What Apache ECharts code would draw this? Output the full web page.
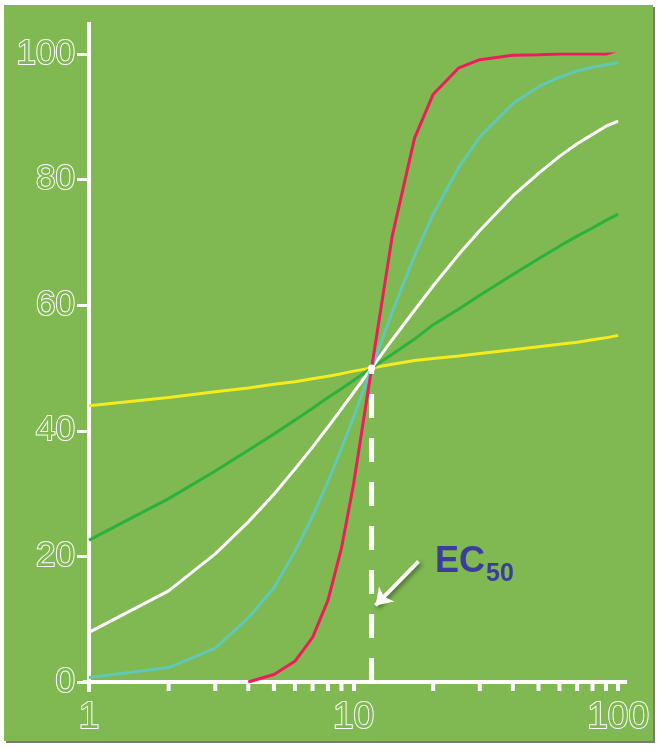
<!DOCTYPE html>
<html>
<head>
<meta charset="utf-8">
<script src="https://cdn.jsdelivr.net/npm/echarts@6/dist/echarts.min.js"></script>
<style>
  html, body { margin: 0; padding: 0; background: #fff; }
  #chart {
    position: absolute; left: 4px; top: 5px;
    width: 649px; height: 736px;
    background: #80b852;
    box-shadow: 2px 2px 0 #7a7a7a;
  }
</style>
</head>
<body>
<div id="chart"></div>
<script>
// concentration (log scale) and % response
var concentrations = [1, 2, 3, 4, 5, 6, 7, 8, 9, 10, 11.7, 14, 17, 20, 25, 30, 40, 50, 60, 70, 80, 90, 100];
var curveYellow = [44, 45.3, 46.2, 46.8, 47.4, 47.8, 48.3, 48.7, 49.1, 49.5, 50, 50.6, 51.2, 51.5, 51.9, 52.3, 52.9, 53.4, 53.8, 54.1, 54.5, 54.8, 55.2];
var curveGreen = [22.6, 29.2, 33.6, 36.9, 39.5, 41.7, 43.6, 45.3, 46.7, 48, 50, 52.2, 54.6, 56.9, 59.4, 61.6, 64.9, 67.4, 69.4, 71, 72.3, 73.5, 74.5];
var curveWhite = [7.9, 14.5, 20.4, 25.5, 29.9, 33.9, 37.4, 40.6, 43.5, 46.1, 50, 54.5, 59.2, 63.1, 68.1, 71.9, 77.4, 81, 83.7, 85.7, 87.2, 88.5, 89.3];
var curveCyan = [0.7, 2.3, 5.4, 10.2, 15, 20.8, 26.4, 31.9, 37.2, 42.2, 50, 58.9, 67.9, 74.5, 82, 86.8, 92.1, 94.8, 96.3, 97.3, 97.9, 98.3, 98.6];
var curveRed = [null, null, null, 0, 1.2, 3.3, 7.1, 13, 21.3, 31.5, 50, 71, 86.6, 93.6, 97.8, 99.1, 99.8, 99.9, 100, 100, 100, 100, 100.6];

var ec50 = 11.7;
var minorTicks = [2, 3, 4, 5, 6, 7, 8, 9, 20, 30, 40, 50, 60, 70, 80, 90];
var arrowFrom = [17.6, 19.2];
var arrowTo = [12.1, 12.2];

function pairs(ys) {
  var out = [];
  for (var i = 0; i < concentrations.length; i++) {
    if (ys[i] != null) out.push([concentrations[i], ys[i]]);
  }
  return out;
}

function curve(ys, color) {
  return {
    type: 'line',
    data: pairs(ys),
    showSymbol: false,
    smooth: false,
    lineStyle: { color: color, width: 3 },
    silent: true
  };
}

// hollow white digits like the original
var tickFont = {
  fontFamily: '"Liberation Sans", sans-serif',
  color: '#80b852',
  textBorderColor: '#fff',
  textBorderWidth: 2
};

var chart = echarts.init(document.getElementById('chart'));
chart.setOption({
  animation: false,
  grid: { left: 85, right: 34, top: 49, bottom: 59 },
  xAxis: {
    type: 'log',
    logBase: 10,
    min: 1,
    max: 100,
    axisLine: { lineStyle: { color: '#fff', width: 4 } },
    axisTick: { show: true, inside: false, length: 9, lineStyle: { color: '#fff', width: 4 } },
    axisLabel: Object.assign({ margin: 17, fontSize: 37 }, tickFont),
    splitLine: { show: false }
  },
  yAxis: {
    type: 'value',
    min: 0,
    max: 100,
    interval: 20,
    axisLine: { show: true, lineStyle: { color: '#fff', width: 4 } },
    axisTick: { show: true, inside: false, length: 12, lineStyle: { color: '#fff', width: 3 } },
    axisLabel: Object.assign({ margin: 14, fontSize: 35 }, tickFont),
    splitLine: { show: false }
  },
  series: [
    curve(curveYellow, '#f4ec1c'),
    curve(curveGreen, '#2bb23c'),
    curve(curveWhite, '#ffffff'),
    curve(curveCyan, '#5fc9b6'),
    curve(curveRed, '#ee1c5c'),
    {
      // EC50 drop line, drawn from the axis up so the dashes line up
      type: 'line',
      data: [[ec50, 0], [ec50, 50]],
      symbol: 'circle',
      symbolSize: function (v, p) { return p.dataIndex === 1 ? 7 : 0; },
      itemStyle: { color: '#fff' },
      lineStyle: { color: '#fff', width: 5, type: [24, 20] },
      silent: true,
      z: 5,
      markLine: {
        silent: true,
        symbol: ['none', 'arrow'],
        symbolSize: [16, 16],
        label: { show: false },
        lineStyle: {
          color: '#fff', width: 4, type: 'solid',
          shadowColor: 'rgba(0,0,0,0.45)', shadowBlur: 4, shadowOffsetX: 2, shadowOffsetY: 2
        },
        data: [[{ coord: arrowFrom }, { coord: arrowTo }]]
      }
    },
    {
      // minor ticks of the log axis
      type: 'custom',
      silent: true,
      clip: false,
      data: minorTicks.map(function (v) { return [v, 0]; }),
      renderItem: function (params, api) {
        var p = api.coord([api.value(0), 0]);
        return {
          type: 'line',
          shape: { x1: p[0], y1: p[1], x2: p[0], y2: p[1] + 9 },
          style: { stroke: '#fff', lineWidth: 4 }
        };
      }
    }
  ]
});

// axis lines run a little past the last ticks
var origin = chart.convertToPixel({ gridIndex: 0 }, [1, 0]);
var corner = chart.convertToPixel({ gridIndex: 0 }, [100, 100]);
chart.setOption({
  graphic: [
    { type: 'line', shape: { x1: origin[0], y1: corner[1], x2: origin[0], y2: corner[1] - 32 }, style: { stroke: '#fff', lineWidth: 4 } },
    { type: 'line', shape: { x1: origin[0], y1: origin[1], x2: origin[0], y2: origin[1] + 10 }, style: { stroke: '#fff', lineWidth: 4 } },
    { type: 'line', shape: { x1: corner[0], y1: origin[1], x2: corner[0] + 9, y2: origin[1] }, style: { stroke: '#fff', lineWidth: 4 } },
    { type: 'line', shape: { x1: origin[0] - 6, y1: origin[1], x2: origin[0], y2: origin[1] }, style: { stroke: '#fff', lineWidth: 4 } },
    {
      type: 'text', left: 431, top: 539,
      style: { text: 'EC', font: 'bold 36px "Liberation Sans", sans-serif', fill: '#3a3d9e' }
    },
    {
      type: 'text', left: 482, top: 557,
      style: { text: '50', font: 'bold 25px "Liberation Sans", sans-serif', fill: '#3a3d9e' }
    }
  ]
});
</script>
</body>
</html>
